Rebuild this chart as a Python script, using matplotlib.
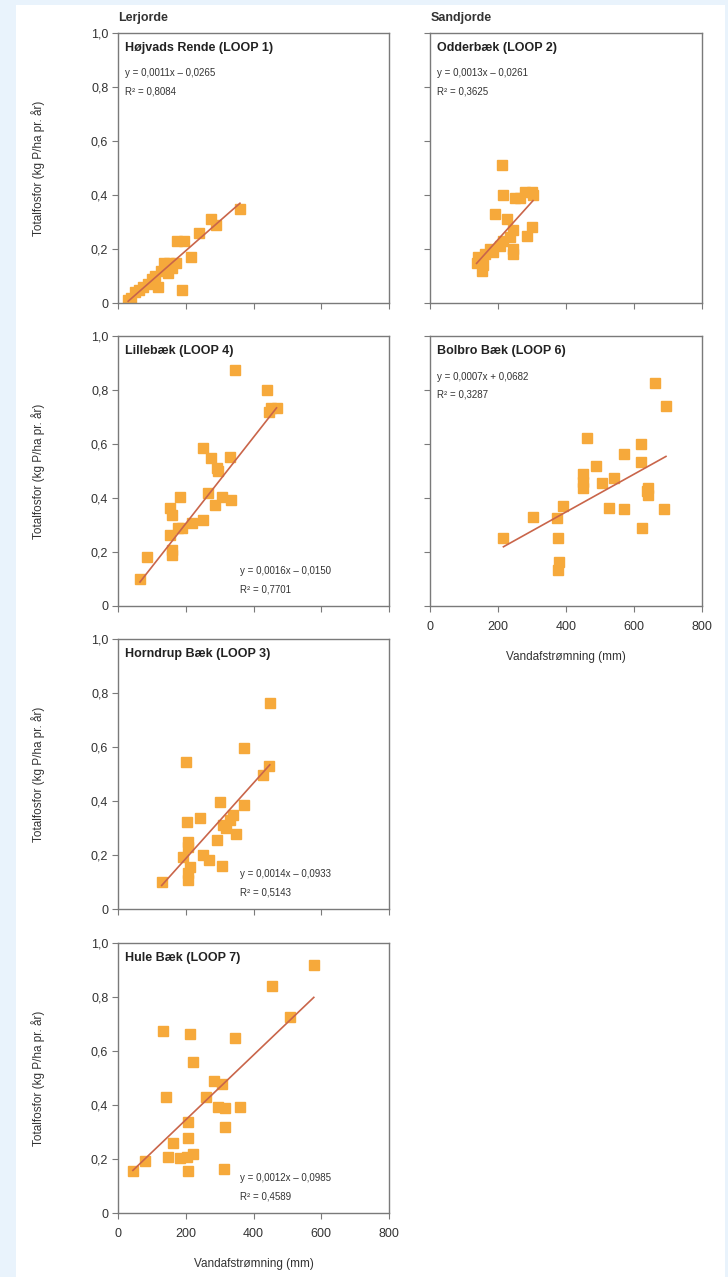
import matplotlib.pyplot as plt
import numpy as np
from matplotlib.patches import Rectangle

plt.rcParams['font.family'] = ['Liberation Sans', 'DejaVu Sans']

# data (x = Vandafstrømning mm, y = Totalfosfor kg P/ha pr. år)
names = ['Højvads Rende (LOOP 1)', 'Odderbæk (LOOP 2)', 'Lillebæk (LOOP 4)',
         'Bolbro Bæk (LOOP 6)', 'Horndrup Bæk (LOOP 3)', 'Hule Bæk (LOOP 7)']

x1 = [30, 38, 50, 62, 75, 88, 100, 110, 118, 128, 135, 148, 152, 160, 170, 175, 190, 195, 215, 240, 275, 290, 360]
y1 = [0.01, 0.02, 0.04, 0.05, 0.06, 0.07, 0.09, 0.10, 0.06, 0.12, 0.15, 0.11, 0.15, 0.13, 0.15, 0.23, 0.05, 0.23, 0.17, 0.26, 0.31, 0.29, 0.35]

x2 = [137, 142, 152, 156, 162, 176, 186, 191, 206, 211, 215, 215, 225, 235, 245, 245, 245, 250, 265, 279, 284, 299, 299, 303]
y2 = [0.15, 0.17, 0.12, 0.14, 0.18, 0.20, 0.19, 0.33, 0.21, 0.51, 0.23, 0.40, 0.31, 0.245, 0.27, 0.20, 0.18, 0.39, 0.39, 0.41, 0.25, 0.41, 0.28, 0.40]

x4 = [65, 85, 158, 158, 153, 178, 188, 217, 251, 158, 153, 183, 266, 286, 306, 335, 291, 294, 251, 276, 330, 439, 445, 453, 468, 345]
y4 = [0.10, 0.183, 0.19, 0.207, 0.263, 0.29, 0.289, 0.307, 0.318, 0.337, 0.363, 0.405, 0.418, 0.374, 0.405, 0.393, 0.51, 0.50, 0.585, 0.548, 0.553, 0.80, 0.72, 0.733, 0.733, 0.874]

x6 = [216, 302, 373, 376, 377, 380, 390, 449, 449, 449, 461, 488, 505, 526, 541, 572, 572, 621, 621, 623, 638, 642, 642, 662, 688, 694]
y6 = [0.25, 0.331, 0.325, 0.253, 0.133, 0.162, 0.371, 0.488, 0.46, 0.436, 0.623, 0.52, 0.457, 0.364, 0.473, 0.562, 0.36, 0.599, 0.532, 0.288, 0.425, 0.436, 0.41, 0.825, 0.36, 0.742]

x3 = [129, 193, 200, 203, 207, 207, 207, 207, 212, 242, 252, 270, 291, 301, 306, 311, 320, 330, 340, 348, 372, 372, 429, 446, 448]
y3 = [0.10, 0.194, 0.546, 0.323, 0.25, 0.23, 0.132, 0.107, 0.157, 0.336, 0.2, 0.18, 0.256, 0.397, 0.159, 0.311, 0.30, 0.33, 0.348, 0.277, 0.595, 0.385, 0.496, 0.53, 0.764]

x7 = [44, 79, 133, 143, 148, 162, 182, 203, 206, 206, 206, 214, 221, 221, 260, 283, 295, 307, 313, 315, 315, 344, 359, 454, 509, 578]
y7 = [0.157, 0.194, 0.675, 0.431, 0.209, 0.258, 0.203, 0.209, 0.338, 0.277, 0.157, 0.663, 0.56, 0.218, 0.428, 0.49, 0.394, 0.478, 0.164, 0.317, 0.39, 0.647, 0.394, 0.84, 0.725, 0.918]

# trend lines as drawn (slope, intercept)
slopes = [0.0011, 0.0014, 0.0016, 0.0007, 0.0014, 0.0012]
intercepts = [-0.0265, -0.045, -0.015, 0.0682, -0.0933, 0.105]

eq_texts = ['y = 0,0011x – 0,0265', 'y = 0,0013x – 0,0261', 'y = 0,0016x – 0,0150',
            'y = 0,0007x + 0,0682', 'y = 0,0014x – 0,0933', 'y = 0,0012x – 0,0985']
r2_texts = ['R² = 0,8084', 'R² = 0,3625', 'R² = 0,7701',
            'R² = 0,3287', 'R² = 0,5143', 'R² = 0,4589']
eq_top = [True, True, False, True, False, False]

xs = [x1, x2, x4, x6, x3, x7]
ys = [y1, y2, y4, y6, y3, y7]

W, H = 728, 1277
fig = plt.figure(figsize=(W / 100, H / 100), dpi=100, facecolor='#e9f3fc')
fig.patches.append(Rectangle((16 / W, 0), (725 - 16) / W, 1 - 5 / H,
                             transform=fig.transFigure, facecolor='white',
                             edgecolor='none', zorder=-10))

lefts = [118, 430]
widths = [271, 272]
bottoms = [303, 606, 909, 1213]
layout = [(0, 0), (0, 1), (1, 0), (1, 1), (2, 0), (3, 0)]

marker_col = '#f6a93b'
line_col = '#c9654a'
spine_col = '#7a7a7a'
text_col = '#333333'

for i, (row, col) in enumerate(layout):
    ax = fig.add_axes([lefts[col] / W, 1 - bottoms[row] / H, widths[col] / W, 270 / H])
    ax.plot(xs[i], ys[i], 's', ms=6.5, color=marker_col, mec=marker_col, zorder=2)
    xl = np.array([min(xs[i]), max(xs[i])])
    ax.plot(xl, slopes[i] * xl + intercepts[i], color=line_col, lw=1.2, zorder=3)
    ax.set_xlim(0, 800)
    ax.set_ylim(0, 1.0)
    ax.set_xticks([0, 200, 400, 600, 800])
    ax.set_yticks([0, 0.2, 0.4, 0.6, 0.8, 1.0])
    ax.tick_params(direction='out', length=4, width=0.8, color=spine_col,
                   labelsize=9, labelcolor=text_col, pad=3)
    ax.tick_params(axis='x', pad=7)
    for s in ax.spines.values():
        s.set_color(spine_col)
        s.set_linewidth(1.0)
    if col == 0:
        ax.set_yticklabels(['0', '0,2', '0,4', '0,6', '0,8', '1,0'])
        ax.set_ylabel('Totalfosfor (kg P/ha pr. år)', fontsize=8.5, color=text_col, labelpad=33)
    else:
        ax.set_yticklabels([])
    if (row, col) in [(1, 1), (3, 0)]:
        ax.set_xticklabels(['0', '200', '400', '600', '800'])
        ax.set_xlabel('Vandafstrømning (mm)', fontsize=8.5, color=text_col, labelpad=13)
    else:
        ax.set_xticklabels([])

    ax.text(0.025, 0.965, names[i], transform=ax.transAxes, fontsize=9,
            fontweight='bold', color='#222222', va='top', ha='left')
    if eq_top[i]:
        ax.text(0.025, 0.85, eq_texts[i], transform=ax.transAxes, fontsize=7,
                color=text_col, va='center')
        ax.text(0.025, 0.785, r2_texts[i], transform=ax.transAxes, fontsize=7,
                color=text_col, va='center')
    else:
        ax.text(0.45, 0.13, eq_texts[i], transform=ax.transAxes, fontsize=7,
                color=text_col, va='center')
        ax.text(0.45, 0.06, r2_texts[i], transform=ax.transAxes, fontsize=7,
                color=text_col, va='center')

fig.text(118 / W, 1 - 18 / H, 'Lerjorde', fontsize=9, fontweight='bold',
         color='#333333', va='center', ha='left')
fig.text(431 / W, 1 - 18 / H, 'Sandjorde', fontsize=9, fontweight='bold',
         color='#333333', va='center', ha='left')

fig.savefig('out.png', dpi=100, facecolor=fig.get_facecolor())
